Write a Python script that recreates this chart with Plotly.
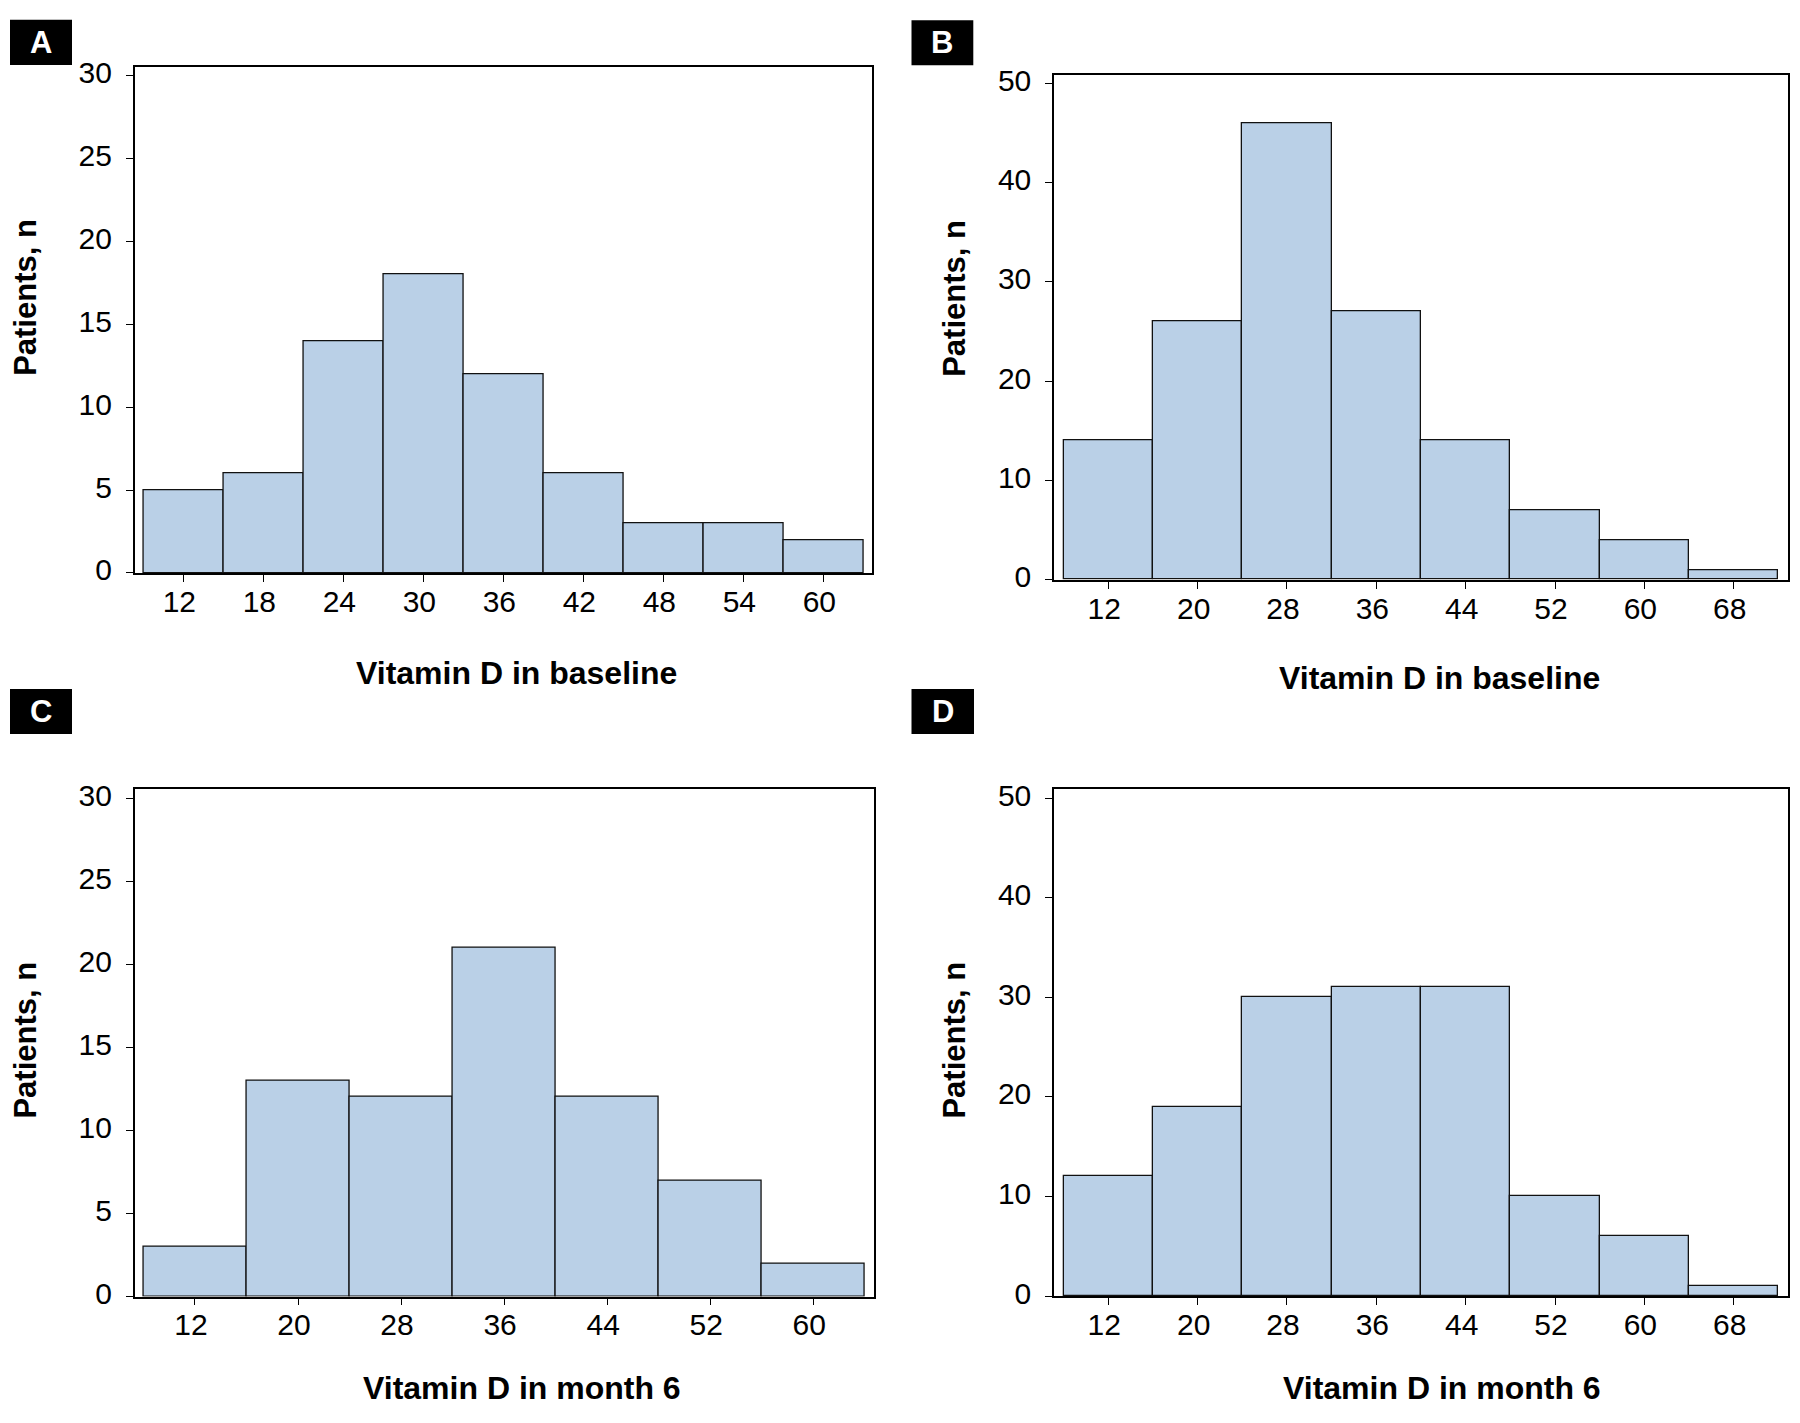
import plotly.graph_objects as go
from plotly.subplots import make_subplots

# ---------------- data ----------------
a_centers = [12, 18, 24, 30, 36, 42, 48, 54, 60]
a_counts = [5, 6, 14, 18, 12, 6, 3, 3, 2]
a_binwidth = 6

b_centers = [12, 20, 28, 36, 44, 52, 60, 68]
b_counts = [14, 26, 46, 27, 14, 7, 4, 1]
b_binwidth = 8

c_centers = [12, 20, 28, 36, 44, 52, 60]
c_counts = [3, 13, 12, 21, 12, 7, 2]
c_binwidth = 8

d_centers = [12, 20, 28, 36, 44, 52, 60, 68]
d_counts = [12, 19, 30, 31, 31, 10, 6, 1]
d_binwidth = 8

x_titles = ["Vitamin D in baseline", "Vitamin D in baseline",
            "Vitamin D in month 6", "Vitamin D in month 6"]
y_title = "Patients, n"
panel_letters = ["A", "B", "C", "D"]

# ---------------- layout helpers ----------------
W, H = 1800, 1423
BAR_FILL = "rgb(186,208,231)"
FONT = "Liberation Sans, Arial, Helvetica, sans-serif"


def xdom(x0, x1):
    return [x0 / W, x1 / W]


def ydom(top, bottom):
    return [1 - bottom / H, 1 - top / H]


panels = [
    dict(centers=a_centers, counts=a_counts, w=a_binwidth, row=1, col=1,
         xd=xdom(134.7, 872), yd=ydom(57.3, 572),
         xr=[8.35, 63.65], yr=[0, 30.5], xt=a_centers, dy=5,
         xtitle=(516, 674), ytitle=(26, 292), box=(10, 9, 72, 55)),
    dict(centers=b_centers, counts=b_counts, w=b_binwidth, row=1, col=2,
         xd=xdom(1054, 1788), yd=ydom(65.5, 579),
         xr=[7.14, 72.86], yr=[0, 50.8], xt=b_centers, dy=10,
         xtitle=(1439, 679), ytitle=(955, 293), box=(911.5, 9.3, 973.3, 55.3)),
    dict(centers=c_centers, counts=c_counts, w=c_binwidth, row=2, col=1,
         xd=xdom(134.7, 873.5), yd=ydom(791.6, 1308.5),
         xr=[7.32, 64.68], yr=[0, 30.57], xt=c_centers, dy=5,
         xtitle=(522, 1402), ytitle=(26, 1048), box=(10, 690, 72, 736)),
    dict(centers=d_centers, counts=d_counts, w=d_binwidth, row=2, col=2,
         xd=xdom(1054, 1788), yd=ydom(792, 1308),
         xr=[7.14, 72.86], yr=[0, 50.9], xt=d_centers, dy=10,
         xtitle=(1442, 1402), ytitle=(955, 1048), box=(911.5, 690, 974, 736)),
]

fig = make_subplots(rows=2, cols=2)

shapes = []
annotations = []
for i, p in enumerate(panels):
    fig.add_trace(
        go.Bar(
            x=p["centers"], y=p["counts"], width=[p["w"]] * len(p["centers"]),
            marker=dict(color=BAR_FILL, line=dict(color="#111111", width=1.3)),
            showlegend=False, hoverinfo="x+y",
        ),
        row=p["row"], col=p["col"],
    )
    fig.update_xaxes(
        domain=p["xd"], range=p["xr"], tickmode="array", tickvals=p["xt"],
        ticktext=[str(v) for v in p["xt"]],
        showline=True, mirror=True, linecolor="black", linewidth=1.5,
        ticks="outside", ticklen=7, tickwidth=1.2, tickcolor="black",
        showgrid=False, zeroline=False, ticklabelstandoff=-6, ticklabelshift=-4,
        tickfont=dict(family=FONT, size=30, color="black"),
        row=p["row"], col=p["col"],
    )
    fig.update_yaxes(
        domain=p["yd"], range=p["yr"], tickmode="linear", tick0=0, dtick=p["dy"],
        showline=True, mirror=True, linecolor="black", linewidth=1.5,
        ticks="outside", ticklen=7, tickwidth=1.2, tickcolor="black",
        showgrid=False, zeroline=False, ticklabelstandoff=8, ticklabelshift=-3,
        tickfont=dict(family=FONT, size=30, color="black"),
        row=p["row"], col=p["col"],
    )
    # axis titles
    tx, ty = p["xtitle"]
    annotations.append(dict(
        text="<b>%s</b>" % x_titles[i], x=tx / W, y=1 - ty / H, xref="paper", yref="paper",
        xanchor="center", yanchor="middle", showarrow=False,
        font=dict(family=FONT, size=32, color="black")))
    yx, yy = p["ytitle"]
    annotations.append(dict(
        text="<b>%s</b>" % y_title, x=yx / W, y=1 - yy / H, xref="paper", yref="paper",
        xanchor="center", yanchor="middle", showarrow=False, textangle=-90,
        font=dict(family=FONT, size=31, color="black")))
    # panel letter box
    bx0, by0, bx1, by1 = p["box"]
    shapes.append(dict(type="rect", xref="paper", yref="paper",
                       x0=bx0 / W, x1=bx1 / W, y0=1 - by1 / H, y1=1 - by0 / H,
                       fillcolor="black", line=dict(width=0), layer="above"))
    annotations.append(dict(
        text="<b>%s</b>" % panel_letters[i], x=(bx0 + bx1) / 2 / W,
        y=1 - (by0 + by1) / 2 / H, xref="paper", yref="paper",
        xanchor="center", yanchor="middle", showarrow=False,
        font=dict(family=FONT, size=31, color="white")))

fig.update_layout(
    width=W, height=H, margin=dict(l=0, r=0, t=0, b=0),
    paper_bgcolor="white", plot_bgcolor="white",
    shapes=shapes, annotations=annotations, bargap=0,
)

fig.write_html(
    "out.html",
    config={"displayModeBar": False},
    post_script="document.body.style.margin='0px';document.body.style.overflow='hidden';"
                "document.documentElement.style.overflow='hidden';",
)
